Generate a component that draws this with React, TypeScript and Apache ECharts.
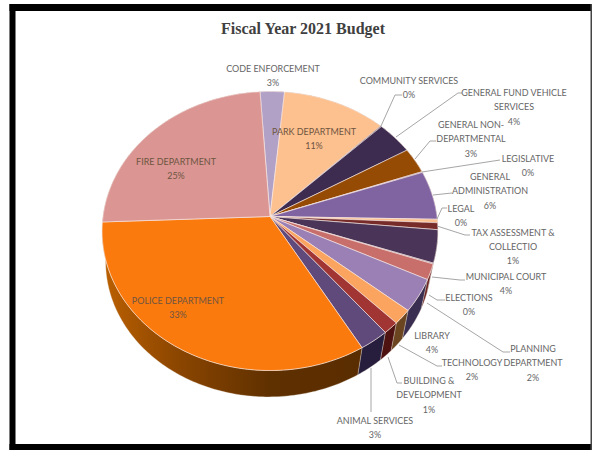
import React, { useEffect, useRef } from "react";
import * as echarts from "echarts";

// Budget share of each department, clockwise from the first slice.
const departments = [
  "CODE ENFORCEMENT", "PARK DEPARTMENT", "COMMUNITY SERVICES", "GENERAL FUND VEHICLE SERVICES",
  "GENERAL NON-DEPARTMENTAL", "LEGISLATIVE", "GENERAL ADMINISTRATION", "LEGAL",
  "TAX ASSESSMENT & COLLECTIO", "MUNICIPAL COURT", "ELECTIONS", "PLANNING DEPARTMENT",
  "LIBRARY", "TECHNOLOGY", "BUILDING & DEVELOPMENT", "ANIMAL SERVICES",
  "POLICE DEPARTMENT", "FIRE DEPARTMENT",
];
const budgetShare = [2.6, 11.1, 0.1, 3.9, 3.0, 0.1, 5.7, 0.4, 0.8, 3.8, 0.1, 1.8, 3.8, 1.7, 1.4, 2.6, 32.9, 24.7];

const faceColors = [
  "#b2a1c7", "#fdc08f", "#3d2c50", "#3d2c50", "#964b05", "#8064a2", "#8064a2", "#fac08f",
  "#772c2a", "#4a3558", "#4a3558", "#c86f6c", "#9a80b5", "#fba45f", "#a03533", "#604a7b",
  "#fb7a0e", "#db9694",
];
const wallColors = [
  "#6a5a80", "#9a6a3a", "#231a30", "#2a1f3a", "#5a2c04", "#3a2c50", "#3a2c50", "#8a5a30",
  "#4a1816", "#2e2138", "#2e2138", "#6a2422", "#3a2f50", "#6b4520", "#4e1210", "#271d3c",
  "#8a4500", "#8a5a58",
];

// Labels, broken into lines, with their anchor and optional leader line.
type Callout = { name: string; lines: string[]; x: number; y: number; leader?: number[][]; inside?: boolean };
const callouts: Callout[] = [
  { name: "CODE ENFORCEMENT", lines: ["CODE ENFORCEMENT"], x: 273, y: 68 },
  { name: "PARK DEPARTMENT", lines: ["PARK DEPARTMENT"], x: 314, y: 131, inside: true },
  { name: "COMMUNITY SERVICES", lines: ["COMMUNITY SERVICES"], x: 409, y: 80, leader: [[381, 126], [395, 95], [402, 95]] },
  { name: "GENERAL FUND VEHICLE SERVICES", lines: ["GENERAL FUND VEHICLE", "SERVICES"], x: 514, y: 92, leader: [[396, 137], [458, 93], [462, 93]] },
  { name: "GENERAL NON-DEPARTMENTAL", lines: ["GENERAL NON-", "DEPARTMENTAL"], x: 471, y: 124, leader: [[415, 159], [430, 141], [436, 141]] },
  { name: "LEGISLATIVE", lines: ["LEGISLATIVE"], x: 528, y: 158, leader: [[422, 172], [500, 160]] },
  { name: "GENERAL ADMINISTRATION", lines: ["GENERAL", "ADMINISTRATION"], x: 490, y: 176, leader: [[433, 195], [452, 193]] },
  { name: "LEGAL", lines: ["LEGAL"], x: 461, y: 207.5, leader: [[437, 219], [442, 208], [447, 208]] },
  { name: "TAX ASSESSMENT & COLLECTIO", lines: ["TAX ASSESSMENT &", "COLLECTIO"], x: 513, y: 231.5, leader: [[437, 226], [465, 235], [470, 235]] },
  { name: "MUNICIPAL COURT", lines: ["MUNICIPAL COURT"], x: 506, y: 276, leader: [[432, 277], [460, 280], [465, 280]] },
  { name: "ELECTIONS", lines: ["ELECTIONS"], x: 469, y: 296.5, leader: [[429, 295], [437, 300], [445, 300]] },
  { name: "PLANNING DEPARTMENT", lines: ["PLANNING", "DEPARTMENT"], x: 533, y: 348, leader: [[427, 303], [503, 352], [510, 352]] },
  { name: "LIBRARY", lines: ["LIBRARY"], x: 432, y: 335 },
  { name: "TECHNOLOGY", lines: ["TECHNOLOGY"], x: 472, y: 362, leader: [[399, 345], [437, 366], [442, 366]] },
  { name: "BUILDING & DEVELOPMENT", lines: ["BUILDING &", "DEVELOPMENT"], x: 429, y: 380, leader: [[388, 357], [397, 383], [402, 383]] },
  { name: "ANIMAL SERVICES", lines: ["ANIMAL SERVICES"], x: 375, y: 420, leader: [[371, 368], [371, 412]] },
  { name: "POLICE DEPARTMENT", lines: ["POLICE DEPARTMENT"], x: 178, y: 299.5, inside: true },
  { name: "FIRE DEPARTMENT", lines: ["FIRE DEPARTMENT"], x: 176, y: 160.5, inside: true },
];

const START_DEG = -3.78;
const total = budgetShare.reduce((a, b) => a + b, 0);
const pct = (v: number) => `${Math.round((v / total) * 100)}%`;

// Tilted disc: a circle seen in perspective, so the near half looks larger.
const PIE = { cx: 270, cy: 216.5, rx: 167, ry: 138, k: 0.104 };
const FLOOR = { scale: 0.97, dx: -1.5, dy: 31 };

function project(deg: number, floor = false): number[] {
  const t = (deg * Math.PI) / 180;
  const u = Math.sin(t);
  const v = -Math.cos(t);
  const w = 1 - PIE.k * v;
  const X = (PIE.rx * u) / w;
  const Y = (PIE.ry * v) / w;
  return floor
    ? [PIE.cx + FLOOR.dx + FLOOR.scale * X, PIE.cy + FLOOR.dy + FLOOR.scale * Y]
    : [PIE.cx + X, PIE.cy + Y];
}

function arc(from: number, to: number, floor = false): number[][] {
  const n = Math.max(1, Math.ceil((to - from) / 1));
  const pts: number[][] = [];
  for (let i = 0; i <= n; i++) pts.push(project(from + ((to - from) * i) / n, floor));
  return pts;
}

function sliceRange(index: number): [number, number] {
  let before = 0;
  for (let i = 0; i < index; i++) before += budgetShare[i];
  const a = START_DEG + (before / total) * 360;
  return [a, a + (budgetShare[index] / total) * 360];
}

const policeIndex = departments.indexOf("POLICE DEPARTMENT");

function renderWall(params: any) {
  const i = params.dataIndex;
  const [a, b] = sliceRange(i);
  const points = [...arc(a, b), ...arc(a, b, true).reverse()];
  const fill =
    i === policeIndex
      ? new echarts.graphic.LinearGradient(0, 0, 1, 0, [
          { offset: 0, color: "#bb6000" },
          { offset: 0.3, color: "#8a4500" },
          { offset: 0.65, color: "#5f3000" },
          { offset: 1, color: "#5a2d00" },
        ])
      : wallColors[i];
  return {
    type: "polygon",
    shape: { points },
    style: { fill, stroke: "rgba(235,225,215,0.55)", lineWidth: 0.6 },
  };
}

function renderFace(params: any) {
  const i = params.dataIndex;
  const [a, b] = sliceRange(i);
  const points = [[PIE.cx, PIE.cy], ...arc(a, b)];
  return {
    type: "polygon",
    shape: { points },
    style: { fill: faceColors[i], stroke: "rgba(250,235,230,0.75)", lineWidth: 0.8 },
  };
}

const LINE_H = 14.2;

function calloutGraphics() {
  const out: any[] = [];
  callouts.forEach((c) => {
    if (c.leader) {
      out.push({
        type: "polyline",
        z: 20,
        shape: { points: c.leader },
        style: { stroke: "#a6a6a6", lineWidth: 1, fill: "none" },
      });
    }
    const value = budgetShare[departments.indexOf(c.name)];
    [...c.lines, pct(value)].forEach((line, n) => {
      out.push({
        type: "text",
        z: 21,
        x: c.x,
        y: c.y + n * LINE_H,
        scaleX: 0.87,
        style: {
          text: line,
          fill: c.inside ? "#6e5540" : "#666666",
          font: "10.3px Lato",
          textAlign: "center",
          textVerticalAlign: "middle",
        },
      });
    });
  });
  return out;
}

export default function App() {
  const ref = useRef<HTMLDivElement>(null);
  useEffect(() => {
    document.body.style.margin = "0";
    const chart = echarts.init(ref.current!, undefined, { renderer: "svg" });
    const seriesData = departments.map((name, i) => ({ name, value: budgetShare[i] }));
    chart.setOption({
      animation: false,
      backgroundColor: "#ffffff",
      title: {
        text: "Fiscal Year 2021 Budget",
        left: 298,
        top: 23,
        textAlign: "center",
        textVerticalAlign: "middle",
        textStyle: { fontFamily: "Liberation Serif", fontWeight: "bold", fontSize: 16, color: "#404040" },
      },
      series: [
        { type: "custom", coordinateSystem: "none", z: 1, data: seriesData, renderItem: renderWall, silent: true },
        { type: "custom", coordinateSystem: "none", z: 2, data: seriesData, renderItem: renderFace, silent: true },
      ],
      graphic: [
        // picture frame: heavy on three sides, hairline on the right
        { type: "rect", z: 0, shape: { x: 9.5, y: 4, width: 582.5, height: 7 }, style: { fill: "#000" } },
        { type: "rect", z: 0, shape: { x: 9.5, y: 4, width: 6, height: 446 }, style: { fill: "#000" } },
        { type: "rect", z: 0, shape: { x: 9.5, y: 444, width: 582.5, height: 6 }, style: { fill: "#000" } },
        { type: "rect", z: 0, shape: { x: 590.5, y: 4, width: 1.5, height: 446 }, style: { fill: "#444" } },
        ...calloutGraphics(),
      ],
    });
    return () => chart.dispose();
  }, []);
  return <div ref={ref} style={{ position: "absolute", left: 0, top: 0, width: 592, height: 450 }} />;
}
